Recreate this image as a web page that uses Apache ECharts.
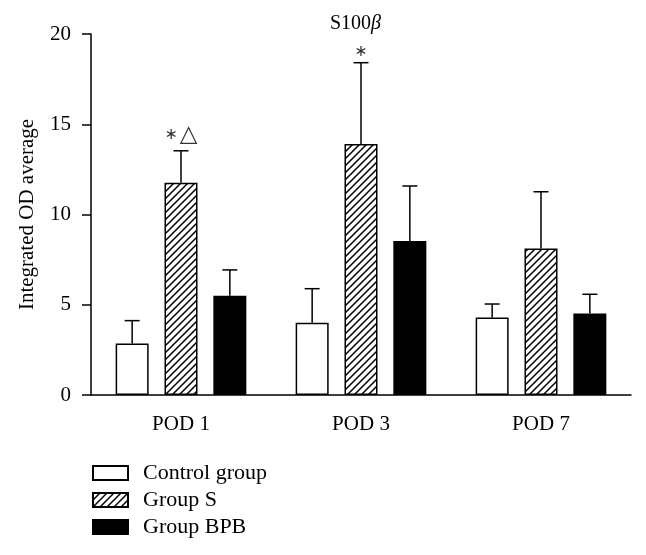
<!DOCTYPE html>
<html><head><meta charset="utf-8">
<script src="https://cdn.jsdelivr.net/npm/echarts@6/dist/echarts.min.js"></script>
<style>html,body{margin:0;padding:0;background:#fff}#c{width:646px;height:555px}</style>
</head><body><div id="c"></div>
<script>
const categories = ['POD 1', 'POD 3', 'POD 7'];
const groupNames = ['Control group', 'Group S', 'Group BPB'];
const controlMean = [2.86, 4.00, 4.30];
const controlSD   = [1.26, 1.89, 0.74];
const sMean       = [11.76, 13.90, 8.11];
const sSD         = [1.77, 4.51, 3.15];
const bpbMean     = [5.50, 8.53, 4.52];
const bpbSD       = [1.43, 3.05, 1.06];
const sigMarks    = ['{s|\u2217}{g| }{t|\u25B3}', '{s|\u2217}', ''];
const yTicks      = [0, 5, 10, 15, 20];

const FONT = 'Liberation Serif';
const BAR_W = 33;
const GAP_RATIO = 0.48;
const STEP = BAR_W * (1 + GAP_RATIO);
const markDistance = [4, 2, 0];

function hatch() {
  const n = 7;
  const c = document.createElement('canvas');
  c.width = n; c.height = n;
  const g = c.getContext('2d');
  g.fillStyle = '#fff'; g.fillRect(0, 0, n, n);
  g.strokeStyle = '#000'; g.lineWidth = 1.5;
  g.beginPath();
  g.moveTo(-1, n + 1); g.lineTo(n + 1, -1);
  g.moveTo(-1, 1); g.lineTo(1, -1);
  g.moveTo(n - 1, n + 1); g.lineTo(n + 1, n - 1);
  g.stroke();
  return c;
}
const hatchPattern = { image: hatch(), repeat: 'repeat' };

function errSeries(mean, sd, idx) {
  return {
    type: 'custom',
    z: 3,
    silent: true,
    data: categories.map((c, i) => [i, mean[i], mean[i] + sd[i]]),
    renderItem: function (params, api) {
      const p0 = api.coord([api.value(0), api.value(1)]);
      const p1 = api.coord([api.value(0), api.value(2)]);
      const x = p0[0] + (idx - 1) * STEP;
      const st = { stroke: '#000', lineWidth: 1.5 };
      return { type: 'group', children: [
        { type: 'line', shape: { x1: x, y1: p0[1], x2: x, y2: p1[1] }, style: st },
        { type: 'line', shape: { x1: x - 7.5, y1: p1[1], x2: x + 7.5, y2: p1[1] }, style: st }
      ]};
    }
  };
}

const chart = echarts.init(document.getElementById('c'), null, { renderer: 'canvas' });
chart.setOption({
  animation: false,
  backgroundColor: '#fff',
  textStyle: { fontFamily: FONT, color: '#000' },
  title: {
    text: '{a|S100}{b|\u03B2}',
    left: 325, top: 9,
    textStyle: { fontWeight: 'normal', rich: {
      a: { fontFamily: FONT, fontSize: 20, fontWeight: 'normal', color: '#000' },
      b: { fontFamily: FONT, fontSize: 20, fontWeight: 'normal', fontStyle: 'italic', color: '#000' }
    }}
  },
  grid: { left: 91, right: 15, top: 34, bottom: 160 },
  legend: {
    orient: 'vertical', left: 87, top: 457,
    itemWidth: 35, itemHeight: 14, itemGap: 5,
    icon: 'rect',
    data: groupNames,
    textStyle: { fontFamily: FONT, fontSize: 22, color: '#000', padding: [0, 0, 0, 10] }
  },
  xAxis: {
    type: 'category', data: categories,
    axisLine: { lineStyle: { color: '#000', width: 1.5 } },
    axisTick: { alignWithLabel: true, length: 7, lineStyle: { color: '#000', width: 1.5 } },
    axisLabel: { fontFamily: FONT, fontSize: 21, color: '#000', margin: 19 }
  },
  yAxis: {
    type: 'value', min: yTicks[0], max: yTicks[yTicks.length - 1], interval: 5,
    name: 'Integrated OD average', nameLocation: 'middle', nameGap: 53,
    nameTextStyle: { fontFamily: FONT, fontSize: 21, color: '#000' },
    splitLine: { show: false },
    axisLine: { show: true, lineStyle: { color: '#000', width: 1.5 } },
    axisTick: { show: true, length: 9, lineStyle: { color: '#000', width: 1.5 } },
    axisLabel: { fontFamily: FONT, fontSize: 21, color: '#000', margin: 20 }
  },
  series: [
    { name: groupNames[0], type: 'bar', data: controlMean, barWidth: BAR_W, barGap: (GAP_RATIO * 100) + '%',
      itemStyle: { color: '#fff', borderColor: '#000', borderWidth: 1.5 } },
    { name: groupNames[1], type: 'bar', data: sMean, barWidth: BAR_W,
      itemStyle: { color: hatchPattern, borderColor: '#000', borderWidth: 1.5 } },
    { name: groupNames[2], type: 'bar', data: bpbMean, barWidth: BAR_W,
      itemStyle: { color: '#000', borderColor: '#000', borderWidth: 1.5 } },
    errSeries(controlMean, controlSD, 0),
    errSeries(sMean, sSD, 1),
    errSeries(bpbMean, bpbSD, 2),
    { type: 'scatter', silent: true, symbolSize: 1, itemStyle: { color: 'rgba(0,0,0,0)' },
      data: categories.map((c, i) => ({ value: [i, sMean[i] + sSD[i]],
        label: { formatter: sigMarks[i], distance: markDistance[i] } })),
      label: { show: true, position: 'top', color: '#000',
        rich: {
          s: { fontFamily: 'DejaVu Sans', fontSize: 16, color: '#000' },
          g: { fontFamily: 'DejaVu Sans', fontSize: 6, color: '#000' },
          t: { fontFamily: 'DejaVu Sans', fontSize: 23, color: '#000' }
        } } }
  ]
});
</script></body></html>
